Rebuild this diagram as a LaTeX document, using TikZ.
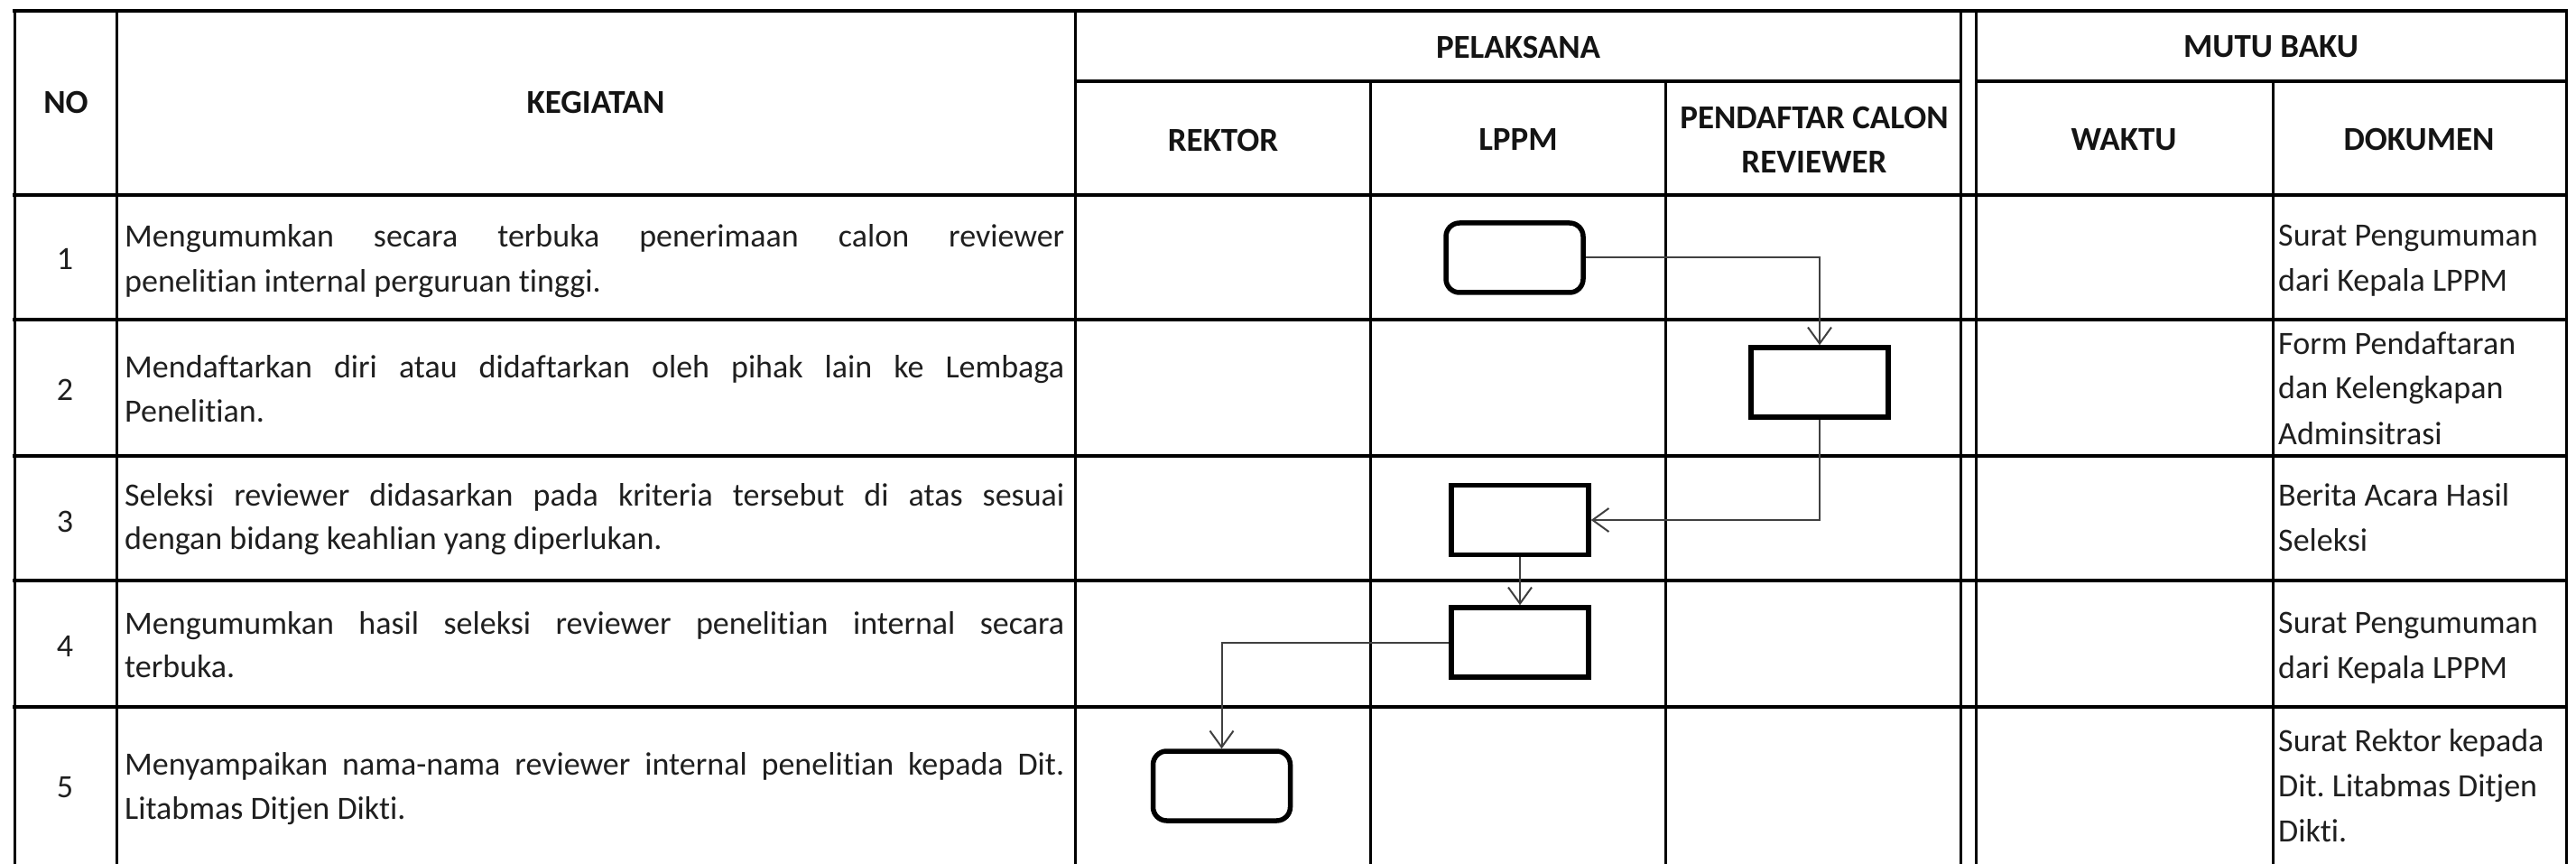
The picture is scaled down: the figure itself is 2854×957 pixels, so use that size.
\documentclass[tikz,border=0pt]{standalone}
\usepackage{fontspec}
\setmainfont[RawFeature={-liga;-dlig;-clig}]{Carlito}
\usetikzlibrary{arrows.meta}
\frenchspacing
\begin{document}
\frenchspacing
\begin{tikzpicture}[x=1pt,y=-1pt,
  hline/.style={line width=4pt},
  vline/.style={line width=3pt},
  txt/.style={inner sep=0pt, anchor=base west, font=\fontsize{36}{50}\selectfont, text=black!88},
  hdr/.style={inner sep=0pt, anchor=center, font=\fontsize{37}{50}\selectfont\bfseries, text=black!92},
  num/.style={inner sep=0pt, anchor=center, font=\fontsize{36}{50}\selectfont, text=black!88},
  actbox/.style={draw, line width=5.5pt, minimum width=152pt, minimum height=77pt, inner sep=0pt},
  termbox/.style={actbox, rounded corners=15pt},
  flow/.style={draw=black!75, line width=2pt, -{Straight Barb[length=18pt,width=26pt]}}
]
\useasboundingbox (0,0) rectangle (2854,957);
\fill[white] (0,0) rectangle (2854,957);

% ---------- table grid ----------
\draw[hline] (14,12) -- (2845,12);
\draw[hline] (1191,90) -- (2172,90);
\draw[hline] (2189,90) -- (2845,90);
\foreach \yy in {216,354,505,643,783}
  \draw[hline] (14,\yy) -- (2845,\yy);
\foreach \xx in {16,129,1191,2172,2189,2843}
  \draw[vline] (\xx,12) -- (\xx,957);
\foreach \xx in {1518,1845,2518}
  \draw[vline] (\xx,90) -- (\xx,957);

% ---------- headers ----------
\node[hdr] (hno) at (73,113) {NO};
\node[hdr] (hkeg) at (660,113) {KEGIATAN};
\node[hdr] (hpel) at (1682,52) {PELAKSANA};
\node[hdr] (hmutu) at (2516,52) {MUTU BAKU};
\node[hdr] (hrek) at (1355,155) {REKTOR};
\node[hdr] (hlppm) at (1682,155) {LPPM};
\node[hdr] (hpend1) at (2010,130) {PENDAFTAR CALON};
\node[hdr] (hpend2) at (2010,180) {REVIEWER};
\node[hdr] (hwaktu) at (2353,155) {WAKTU};
\node[hdr] (hdok) at (2680,155) {DOKUMEN};

% ---------- numbers ----------
\node[num] (n1) at (72,287) {1};
\node[num] (n2) at (72,432) {2};
\node[num] (n3) at (72,578) {3};
\node[num] (n4) at (72,716) {4};
\node[num] (n5) at (72,872) {5};

% ---------- kegiatan ----------
\node[txt] (k1a) at (138,274) {\makebox[1041pt][s]{Mengumumkan secara terbuka penerimaan calon reviewer}};
\node[txt] (k1b) at (138,324) {penelitian internal perguruan tinggi.};
\node[txt] (k2a) at (138,418) {\makebox[1041pt][s]{Mendaftarkan diri atau didaftarkan oleh pihak lain ke Lembaga}};
\node[txt] (k2b) at (138,467) {Penelitian.};
\node[txt] (k3a) at (138,560) {\makebox[1041pt][s]{Seleksi reviewer didasarkan pada kriteria tersebut di atas sesuai}};
\node[txt] (k3b) at (138,608) {dengan bidang keahlian yang diperlukan.};
\node[txt] (k4a) at (138,702) {\makebox[1041pt][s]{Mengumumkan hasil seleksi reviewer penelitian internal secara}};
\node[txt] (k4b) at (138,750) {terbuka.};
\node[txt] (k5a) at (138,858) {\makebox[1041pt][s]{Menyampaikan nama-nama reviewer internal penelitian kepada Dit.}};
\node[txt] (k5b) at (138,907) {Litabmas Ditjen Dikti.};

% ---------- dokumen ----------
\node[txt] (d1a) at (2524,273) {Surat Pengumuman};
\node[txt] (d1b) at (2524,323) {dari Kepala LPPM};
\node[txt] (d2a) at (2524,392) {Form Pendaftaran};
\node[txt] (d2b) at (2524,442) {dan Kelengkapan};
\node[txt] (d2c) at (2524,492) {Adminsitrasi};
\node[txt] (d3a) at (2524,560) {Berita Acara Hasil};
\node[txt] (d3b) at (2524,610) {Seleksi};
\node[txt] (d4a) at (2524,701) {Surat Pengumuman};
\node[txt] (d4b) at (2524,751) {dari Kepala LPPM};
\node[txt] (d5a) at (2524,832) {Surat Rektor kepada};
\node[txt] (d5b) at (2524,882) {Dit. Litabmas Ditjen};
\node[txt] (d5c) at (2524,932) {Dikti.};

% ---------- flow ----------
\node[termbox] (b1) at (1678,285.5) {};
\node[actbox]  (b2) at (2016,423.5) {};
\node[actbox]  (b3) at (1684,576) {};
\node[actbox]  (b4) at (1684,711.5) {};
\node[termbox] (b5) at (1353.5,870.5) {};

\draw[flow] (b1.east) -| (b2.north);
\draw[flow] (b2.south) |- (b3.east);
\draw[flow] (b3.south) -- (b4.north);
\draw[flow] (b4.west) -| (b5.north);
\end{tikzpicture}
\end{document}
